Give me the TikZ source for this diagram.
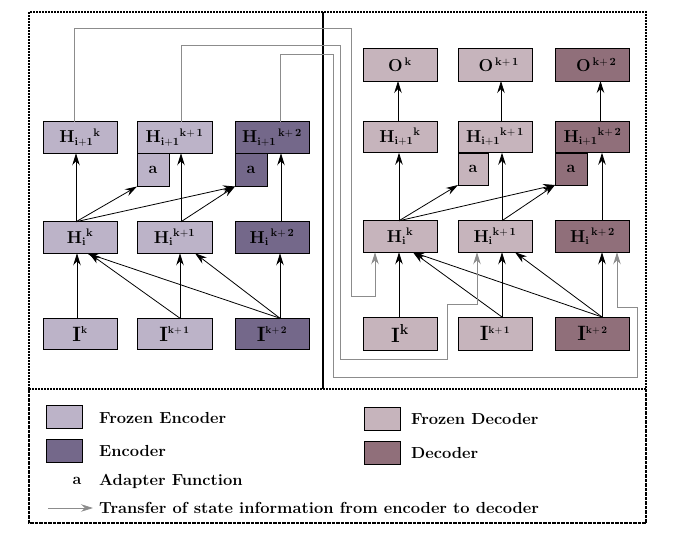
\documentclass[tikz,border=0pt]{standalone}
\usetikzlibrary{arrows.meta}
\definecolor{fenc}{RGB}{188,179,200}
\definecolor{enc}{RGB}{116,104,138}
\definecolor{fdec}{RGB}{198,180,188}
\definecolor{dec}{RGB}{144,111,122}
\definecolor{tgray}{RGB}{140,140,140}
\newcommand{\Hlab}[2]{$\mathbf{H}_{\mathbf{#1}}{}^{\mathbf{#2}}$}
\newcommand{\Ilab}[1]{$\mathbf{I}^{\scriptscriptstyle\mathbf{#1}}$}
\begin{document}
\begin{tikzpicture}[x=1pt,y=-1pt,
  bx/.style={draw=black, line width=0.8pt, inner sep=0pt, outer sep=0pt,
    minimum width=74pt, minimum height=31.5pt, font=\fontsize{16}{18}\selectfont\bfseries},
  ib/.style={bx, font=\fontsize{20}{22}\selectfont\bfseries},
  ad/.style={draw=black, line width=0.8pt, inner sep=0pt, outer sep=0pt,
    minimum width=32pt, minimum height=33pt, font=\fontsize{16}{18}\selectfont\bfseries},
  sw/.style={draw=black, line width=0.8pt, inner sep=0pt, outer sep=0pt,
    minimum width=36pt, minimum height=23pt},
  lt/.style={anchor=west, inner sep=0pt, xscale=1.03, font=\fontsize{16}{18}\selectfont\bfseries},
  arr/.style={draw=black, line width=0.8pt, -{Stealth[length=12pt,width=7.5pt,inset=4pt]}},
  garr/.style={draw=tgray, line width=0.8pt, -{Stealth[length=12pt,width=7.5pt,inset=4pt]}},
  frame/.style={line width=1.6pt, dash pattern=on 2pt off 1pt},
  lframe/.style={line width=1.1pt, dash pattern=on 3.5pt off 1pt}
]
\useasboundingbox (0,0) rectangle (685,540);
% frames
\draw[frame] (29,389) -- (29,12) -- (646,12) -- (646,389);
\draw[frame] (29,389) -- (646,389);
\draw[lframe] (29,389) -- (29,523) -- (646,523) -- (646,389);
\draw[line width=2pt] (323,12) -- (323,389);

% encoder side
\node[bx, fill=fenc] (eHH1) at (80,137.5) {\Hlab{i+1}{k}};
\node[bx, fill=fenc, minimum width=75pt] (eHH2) at (174.5,137.5) {\Hlab{i+1}{k+\,1}};
\node[bx, fill=enc] (eHH3) at (272,137.5) {\Hlab{i+1}{\,k+\,2}};
\node[ad, fill=fenc] (ea2) at (153,170) {a};
\node[ad, fill=enc] (ea3) at (251,170) {a};
\node[bx, fill=fenc] (eH1) at (80,237.5) {\Hlab{i}{k}};
\node[bx, fill=fenc, minimum width=75pt] (eH2) at (174.5,237.5) {\Hlab{i}{k+1}};
\node[bx, fill=enc] (eH3) at (272,237.5) {\Hlab{i}{\,k+\,2}};
\node[ib, fill=fenc] (eI1) at (80,334) {\Ilab{k}};
\node[ib, fill=fenc, minimum width=75pt] (eI2) at (174.5,334) {\Ilab{k+\,1}};
\node[ib, fill=enc] (eI3) at (272,334) {\Ilab{k+\,2}};

% decoder side
\node[bx, fill=fdec, minimum height=33pt] (dO1) at (400,64.5) {$\mathbf{O}^{\,\mathbf{k}}$};
\node[bx, fill=fdec, minimum height=33pt] (dO2) at (495,64.5) {$\;\,\mathbf{O}^{\,\mathbf{k+\,1}}$};
\node[bx, fill=dec, minimum height=33pt] (dO3) at (592.5,64.5) {$\;\,\mathbf{O}^{\,\mathbf{k+\,2}}$};
\node[bx, fill=fdec] (dHH1) at (400,137) {\Hlab{i+1}{k}};
\node[bx, fill=fdec] (dHH2) at (495,137) {\Hlab{i+1}{k+\,1}};
\node[bx, fill=dec] (dHH3) at (592.5,137) {\Hlab{i+1}{k+\,2}};
\node[ad, fill=fdec, minimum width=30pt, minimum height=32pt] (da2) at (473,169) {a};
\node[ad, fill=dec, minimum width=32pt, minimum height=32pt] (da3) at (571,169) {a};
\node[bx, fill=fdec] (dH1) at (400,236.5) {\Hlab{i}{k}};
\node[bx, fill=fdec] (dH2) at (495,236.5) {\Hlab{i}{k+\,1}};
\node[bx, fill=dec] (dH3) at (592.5,236.5) {\Hlab{i}{\,k+\,2}};
\node[ib, fill=fdec, minimum height=33pt] (dI1) at (400,333.5) {$\mathbf{I}^{\mathbf{k}}$};
\node[ib, fill=fdec, minimum height=33pt] (dI2) at (495,333.5) {\Ilab{k+\,1}};
\node[ib, fill=dec, minimum height=33pt] (dI3) at (592.5,333.5) {\Ilab{k+\,2}};

% encoder arrows
\draw[arr] ([xshift=-3pt]eI1.north) -- ([xshift=-3pt]eH1.south);
\draw[arr] ([xshift=5.5pt]eI2.north) -- ([xshift=5.5pt]eH2.south);
\draw[arr] ([xshift=8pt]eI3.north) -- ([xshift=8pt]eH3.south);
\draw[arr] ([xshift=5.5pt]eI2.north) -- ([xshift=9pt]eH1.south);
\draw[arr] ([xshift=8pt]eI3.north) -- ([xshift=7pt]eH1.south);
\draw[arr] ([xshift=8pt]eI3.north) -- ([xshift=20.5pt]eH2.south);
\draw[arr] ([xshift=-4pt]eH1.north) -- ([xshift=-4pt]eHH1.south);
\draw[arr] ([xshift=-4pt]eH1.north) -- (ea2.south west);
\draw[arr] ([xshift=-4pt]eH1.north) -- (ea3.south west);
\draw[arr] ([xshift=6.5pt]eH2.north) -- ([xshift=6.5pt]eHH2.south);
\draw[arr] ([xshift=6.5pt]eH2.north) -- (ea3.south west);
\draw[arr] ([xshift=9pt]eH3.north) -- ([xshift=9pt]eHH3.south);

% decoder arrows
\draw[arr] ([xshift=-2pt]dHH1.north) -- ([xshift=-2pt]dO1.south);
\draw[arr] ([xshift=6pt]dHH2.north) -- ([xshift=6pt]dO2.south);
\draw[arr] ([xshift=8pt]dHH3.north) -- ([xshift=8pt]dO3.south);
\draw[arr] ([xshift=-1pt]dH1.north) -- ([xshift=-1pt]dHH1.south);
\draw[arr] ([xshift=-1pt]dH1.north) -- (da2.south west);
\draw[arr] ([xshift=-1pt]dH1.north) -- (da3.south west);
\draw[arr] ([xshift=7pt]dH2.north) -- ([xshift=7pt]dHH2.south);
\draw[arr] ([xshift=7pt]dH2.north) -- (da3.south west);
\draw[arr] ([xshift=9.5pt]dH3.north) -- ([xshift=9.5pt]dHH3.south);
\draw[arr] ([xshift=-1pt]dI1.north) -- ([xshift=-1pt]dH1.south);
\draw[arr] ([xshift=7pt]dI2.north) -- ([xshift=7pt]dH2.south);
\draw[arr] ([xshift=9.5pt]dI3.north) -- ([xshift=9.5pt]dH3.south);
\draw[arr] ([xshift=7pt]dI2.north) -- ([xshift=13pt]dH1.south);
\draw[arr] ([xshift=9.5pt]dI3.north) -- ([xshift=13pt]dH1.south);
\draw[arr] ([xshift=9.5pt]dI3.north) -- ([xshift=20pt]dH2.south);

% state transfer
\draw[garr] ([xshift=-6pt]eHH1.north) |- (351,28) -- (351,296) -| ([xshift=-25pt]dH1.south);
\draw[garr] ([xshift=6.5pt]eHH2.north) |- (340,45) -- (340,359) -- (447,359) -- (447,304) -| ([xshift=-18pt]dH2.south);
\draw[garr] ([xshift=8pt]eHH3.north) |- (333,54) -- (333,377) -- (637,377) -- (637,307) -| ([xshift=24.5pt]dH3.south);

% legend
\node[sw, fill=fenc] (lfe) at (64,417) {};
\node[lt] (tfe) at (99,418) {Frozen Encoder};
\node[sw, fill=enc] (le) at (64.5,450.5) {};
\node[lt] (te) at (99,451) {Encoder};
\node[font=\fontsize{16}{18}\selectfont\bfseries, inner sep=0pt] (la) at (77,481) {a};
\node[lt] (ta) at (99,481) {Adapter Function};
\coordinate (lg1) at (48,508);
\coordinate (lg2) at (93,508);
\draw[garr] (lg1) -- (lg2);
\node[lt] (tt) at (99,508) {Transfer of state information from encoder to decoder};
\node[sw, fill=fdec] (lfd) at (382.5,418.5) {};
\node[lt] (tfd) at (411,419) {Frozen Decoder};
\node[sw, fill=dec] (ld) at (382.5,452.5) {};
\node[lt] (td) at (411,453) {Decoder};
\end{tikzpicture}
\end{document}
